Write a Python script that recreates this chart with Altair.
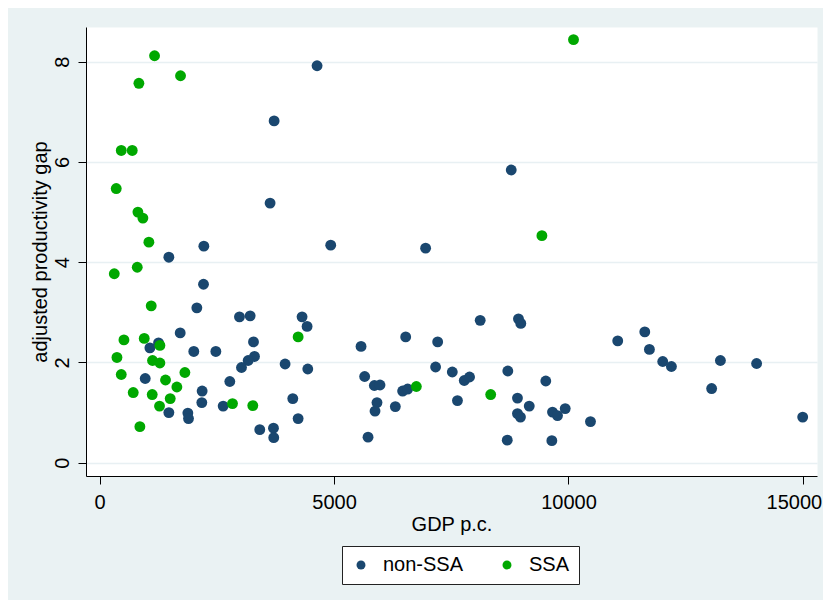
import altair as alt
import pandas as pd

# non-SSA countries
nonssa_gdp = [4638, 3722, 3636, 2223, 4929, 1477, 2216, 2074, 2983, 3211, 4318, 4425, 1719, 3282,
              1257, 1073, 2009, 2479, 3303, 3168, 3026, 3956, 4440, 973, 2777, 2187, 2180, 2635,
              1477, 1882, 1896, 3416, 3708, 3714, 4120, 4234, 8779, 6953, 5576, 6528, 7210, 8117,
              8933, 8983, 11050, 7166, 7522, 7777, 7890, 8706, 9516, 5653, 5860, 5980, 6463, 6570,
              5916, 5874, 6307, 7632, 8912, 9163, 8912, 8976, 9659, 9766, 9930, 10469, 5725, 8694,
              9645, 11627, 11726, 12010, 12195, 13053, 13240, 14012, 14995]
nonssa_gap = [7.92, 6.82, 5.18, 4.32, 4.34, 4.10, 3.56, 3.09, 2.91, 2.93, 2.91, 2.72, 2.59, 2.41,
              2.39, 2.29, 2.22, 2.22, 2.12, 2.04, 1.90, 1.97, 1.87, 1.68, 1.62, 1.43, 1.20, 1.13,
              1.00, 0.99, 0.88, 0.66, 0.69, 0.50, 1.28, 0.88, 5.84, 4.28, 2.32, 2.51, 2.41, 2.84,
              2.87, 2.78, 2.43, 1.91, 1.81, 1.64, 1.71, 1.83, 1.63, 1.72, 1.54, 1.55, 1.43, 1.47,
              1.20, 1.03, 1.12, 1.24, 1.29, 1.13, 0.98, 0.91, 1.01, 0.94, 1.08, 0.82, 0.51, 0.45,
              0.44, 2.61, 2.26, 2.02, 1.92, 1.48, 2.04, 1.98, 0.91]

# SSA countries
ssa_gdp = [1172, 1726, 838, 462, 696, 355, 817, 923, 1051, 803, 313, 1101, 4234, 519, 952, 1286,
           370, 1129, 1286, 462, 1819, 1406, 1648, 717, 1122, 1506, 1278, 2834, 3267, 859,
           10107, 9433, 6755, 8341]
ssa_gap = [8.12, 7.72, 7.57, 6.23, 6.23, 5.47, 5.00, 4.88, 4.40, 3.90, 3.77, 3.13, 2.51, 2.45, 2.48,
           2.34, 2.10, 2.04, 1.99, 1.76, 1.80, 1.65, 1.51, 1.40, 1.36, 1.28, 1.13, 1.18, 1.14, 0.72,
           8.44, 4.53, 1.52, 1.36]

groups = ["non-SSA", "SSA"]
colors = ["#1A476F", "#00A800"]
x_ticks = [0, 5000, 10000, 15000]
y_ticks = [0, 2, 4, 6, 8]

df = pd.DataFrame({
    "gdp": nonssa_gdp + ssa_gdp,
    "gap": nonssa_gap + ssa_gap,
    "group": [groups[0]] * len(nonssa_gdp) + [groups[1]] * len(ssa_gdp),
    "ord": list(range(len(nonssa_gdp) + len(ssa_gdp))),
})

FONT = "Liberation Sans"

chart = alt.Chart(df).mark_circle(size=118, opacity=1).encode(
    x=alt.X("gdp:Q",
            scale=alt.Scale(domain=[-290, 15300], nice=False, zero=False),
            axis=alt.Axis(values=x_ticks, format="d", title="GDP p.c.", grid=False,
                          tickSize=8, labelPadding=8, titlePadding=2,
                          labelOffset={"condition": {"test": "datum.value == 15000", "value": -9},
                                       "value": 0})),
    y=alt.Y("gap:Q",
            scale=alt.Scale(domain=[-0.265, 8.693], nice=False, zero=False),
            axis=alt.Axis(values=y_ticks, format="d", title="adjusted productivity gap",
                          grid=True, gridColor="#E8F0F3", gridWidth=1.5,
                          labelAngle=270, labelAlign="center", labelBaseline="alphabetic",
                          tickSize=8, labelPadding=10, titlePadding=2)),
    color=alt.Color("group:N",
                    scale=alt.Scale(domain=groups, range=colors),
                    legend=alt.Legend(title=None, orient="none", legendX=256, legendY=519,
                                      direction="horizontal", fillColor="white",
                                      strokeColor="#222222", padding=9, symbolSize=80,
                                      symbolType="circle", labelOffset=12, columnPadding=33,
                                      labelFontSize=20, labelFont=FONT, labelColor="black")),
    order=alt.Order("ord:Q"),
).properties(
    width=731, height=449,
    padding={"left": 78, "top": 19, "right": 6, "bottom": 124},
    autosize=alt.AutoSizeParams(type="none"),
    background="#EAF2F3",
).configure(font=FONT).configure_view(
    fill="white", stroke="transparent"
).configure_axis(
    domainColor="black", tickColor="black", labelColor="black", titleColor="black",
    labelFontSize=20, titleFontSize=20, titleFontWeight="normal",
    labelFont=FONT, titleFont=FONT, domainWidth=1, tickWidth=1,
)

chart.save("out.html", embed_options={"renderer": "svg", "actions": False})
